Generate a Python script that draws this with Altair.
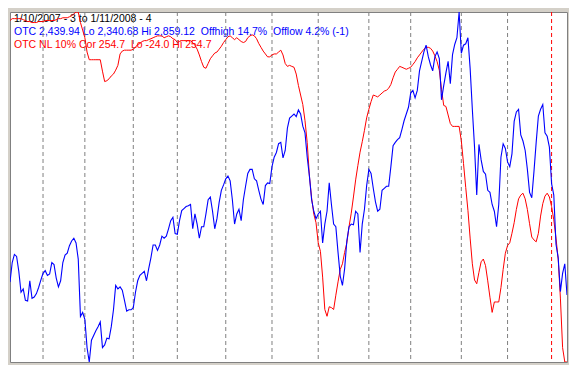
import altair as alt
import pandas as pd

# OTC (Nasdaq) closes, one per trading day, 1/10/2007 .. 1/11/2008
otc = [
    2459, 2488, 2500, 2497, 2475, 2444, 2449, 2432, 2431, 2461,
    2435, 2437, 2442, 2451, 2462, 2472, 2476, 2469, 2471, 2488,
    2485, 2465, 2452, 2461, 2488, 2499, 2502, 2513, 2520, 2524,
    2517, 2493, 2408, 2414, 2404, 2362, 2340.68, 2373, 2380, 2387,
    2393, 2400, 2362, 2366, 2376, 2375, 2393, 2418, 2454, 2449,
    2452, 2447, 2432, 2416, 2418, 2418, 2421, 2444, 2461, 2469,
    2472, 2475, 2461, 2479, 2495, 2514, 2514, 2506, 2514, 2527,
    2524, 2527, 2538, 2550, 2555, 2531, 2530, 2550, 2565, 2568,
    2571, 2572, 2574, 2538, 2560, 2545, 2524, 2541, 2541, 2560,
    2581, 2585, 2564, 2538, 2553, 2577, 2595, 2603, 2612, 2616,
    2609, 2581, 2545, 2560, 2567, 2550, 2581, 2601, 2620, 2626,
    2626, 2612, 2609, 2595, 2582, 2574, 2602, 2606, 2605, 2630,
    2644, 2651, 2664, 2666, 2643, 2654, 2687, 2702, 2705, 2708,
    2704, 2714, 2708, 2690, 2680, 2644, 2616, 2581, 2564, 2553,
    2560, 2564, 2517, 2545, 2564, 2606, 2574, 2545, 2541, 2503,
    2468, 2454, 2479, 2520, 2541, 2545, 2544, 2564, 2560, 2503,
    2545, 2567, 2602, 2626, 2620, 2598, 2578, 2564, 2567, 2595,
    2598, 2601, 2601, 2630, 2661, 2666, 2670, 2673, 2685, 2698,
    2708, 2718, 2739, 2743, 2732, 2743, 2772, 2786, 2800, 2810,
    2793, 2781, 2772, 2793, 2800, 2790, 2729, 2750, 2769, 2786,
    2753, 2796, 2811, 2821, 2859.12, 2798, 2810, 2812, 2821, 2776,
    2715, 2659, 2588, 2663, 2640, 2623, 2619, 2595, 2592, 2574,
    2564, 2541, 2574, 2644, 2664, 2657, 2637, 2630, 2649, 2697,
    2711, 2715, 2677, 2668, 2654, 2626, 2592, 2584, 2623, 2666,
    2705, 2715, 2722, 2680, 2675, 2659, 2605, 2588, 2515, 2495,
    2445, 2472, 2486, 2439.94,
]

# OTC NL 10% indicator (plotted inverted)
nl = [
    -17.2, -18.7, -18.7, -18.7, -18.7, -18.7, -17.9, -17.2, -16.4, -16.4,
    -15.6, -15.6, -15.6, -16.4, -16.4, -16.4, -17.2, -17.2, -17.2, -17.2,
    -17.2, -17.9, -18.7, -18.7, -19.4, -19.4, -19.4, -20.2, -21.0, -22.5,
    -24.0, -24.0, -15.6, -9.6, -3.5, 7.9, 14.0, 14.0, 14.0, 14.0,
    14.0, 14.0, 23.1, 31.4, 30.7, 29.2, 26.9, 25.4, 22.3, 18.5,
    9.4, 7.1, 6.4, 6.4, 6.4, 6.4, 5.6, 4.1, 1.8, 1.1,
    -0.5, -1.2, -1.2, -2.0, -2.7, -3.5, -4.3, -5.0, -5.0, -5.0,
    -3.5, -4.3, -5.0, -4.3, -2.7, -2.0, 0.3, -0.5, -1.2, -1.2,
    -1.2, -1.2, -1.2, 0.3, 2.6, 5.6, 10.2, 15.5, 20.0, 20.8,
    17.0, 13.2, 10.9, 8.7, 7.9, 5.6, 3.3, 0.3, -2.0, -4.3,
    -5.0, -3.5, -2.0, -3.5, -2.0, -0.5, 0.3, -0.5, -3.5, -5.0,
    -5.8, -5.0, -2.7, 1.1, 4.1, 7.1, 9.4, 11.7, 11.7, 10.2,
    9.4, 9.4, 7.9, 6.4, 10.2, 17.0, 19.3, 18.5, 19.3, 20.0,
    25.4, 34.5, 42.1, 49.7, 62.6, 80.0, 106.6, 124.1, 137.0, 143.8,
    159.8, 166.6, 187.1, 212.9, 218.3, 210.7, 211.4, 212.9, 201.5, 190.9,
    181.0, 176.5, 167.4, 159.8, 146.9, 136.2, 123.3, 109.7, 98.3, 87.6,
    79.3, 70.2, 60.3, 53.5, 47.4, 42.1, 42.8, 43.6, 42.1, 40.5,
    39.0, 38.3, 36.7, 33.7, 28.4, 23.8, 21.6, 19.3, 20.0, 20.8,
    21.6, 20.8, 20.0, 17.8, 15.5, 12.5, 10.2, 7.9, 5.6, 4.1,
    4.1, 4.9, 7.1, 10.9, 15.5, 22.3, 37.5, 50.4, 51.2, 58.0,
    64.8, 67.1, 67.1, 67.1, 67.1, 78.5, 96.7, 115.7, 133.9, 156.0,
    176.5, 189.4, 192.4, 183.3, 174.9, 172.7, 178.0, 190.1, 203.1, 215.2,
    206.9, 206.9, 206.9, 195.5, 181.0, 168.1, 162.0, 159.8, 152.2, 143.8,
    133.2, 124.8, 121.8, 120.3, 124.8, 133.2, 144.6, 155.2, 157.5, 159.0,
    152.2, 138.5, 128.6, 122.6, 120.3, 123.3, 130.9, 141.5, 156.0, 172.7,
    203.8, 243.3, 254.7, 254.7,
]

# trading-day index of each month start (Feb 2007 .. Dec 2007) and of Jan 2008
month_starts = [15, 34, 56, 76, 98, 119, 140, 163, 182, 205, 226]
year_start = [246]

otc_lo, otc_hi = 2340.68, 2859.12
nl_lo, nl_hi = -24.0, 254.7

title_lines = [
    "1/10/2007 - 3 to 1/11/2008 - 4",
    "OTC 2,439.94 Lo 2,340.68 Hi 2,859.12\u00a0 Offhigh 14.7%\u00a0 Offlow 4.2% (-1)",
    "OTC NL 10% Cor 254.7\u00a0 Lo -24.0 Hi 254.7",
]
title_colors = ["#000000", "#0000ff", "#ff0000"]

df = pd.DataFrame({"day": list(range(len(otc))), "otc": otc, "nl": nl})
xscale = alt.Scale(domain=[0, len(otc) - 1], nice=False, zero=False)

base = alt.Chart(df)

texts = []
for i, (t, c) in enumerate(zip(title_lines, title_colors)):
    texts.append(
        alt.Chart(pd.DataFrame({"t": [t]}))
        .mark_text(align="left", baseline="alphabetic", font="Liberation Sans",
                   fontSize=10.5, color=c)
        .encode(text="t:N", x=alt.value(4), y=alt.value(10 + 13 * i))
    )

rules = (
    alt.Chart(pd.DataFrame({"day": month_starts}))
    .mark_rule(color="#808080", strokeDash=[4, 3], strokeWidth=1)
    .encode(x=alt.X("day:Q", scale=xscale, axis=None))
)
rule_red = (
    alt.Chart(pd.DataFrame({"day": year_start}))
    .mark_rule(color="#ff0000", strokeDash=[4, 3], strokeWidth=1)
    .encode(x=alt.X("day:Q", scale=xscale, axis=None))
)

red = base.mark_line(color="#ff0000", strokeWidth=1, clip=True).encode(
    x=alt.X("day:Q", scale=xscale, axis=None),
    y=alt.Y("nl:Q", scale=alt.Scale(domain=[nl_lo, nl_hi], reverse=True,
                                     nice=False, zero=False), axis=None),
)
blue = base.mark_line(color="#0000ff", strokeWidth=1.1, clip=True).encode(
    x=alt.X("day:Q", scale=xscale, axis=None),
    y=alt.Y("otc:Q", scale=alt.Scale(domain=[otc_lo, otc_hi],
                                      nice=False, zero=False), axis=None),
)

chart = (
    alt.layer(*texts, rules, rule_red, red, blue)
    .resolve_scale(y="independent")
    .properties(
        width=561,
        height=357,
        autosize=alt.AutoSizeParams(type="fit", contains="padding"),
        padding={"left": 2, "top": 3, "right": 2, "bottom": 2},
        background="#d4d0c8",
    )
    .configure_view(fill="#ffffff", stroke="#808080", strokeWidth=1)
)

chart.save("out.html", embed_options={"renderer": "svg", "actions": False})
